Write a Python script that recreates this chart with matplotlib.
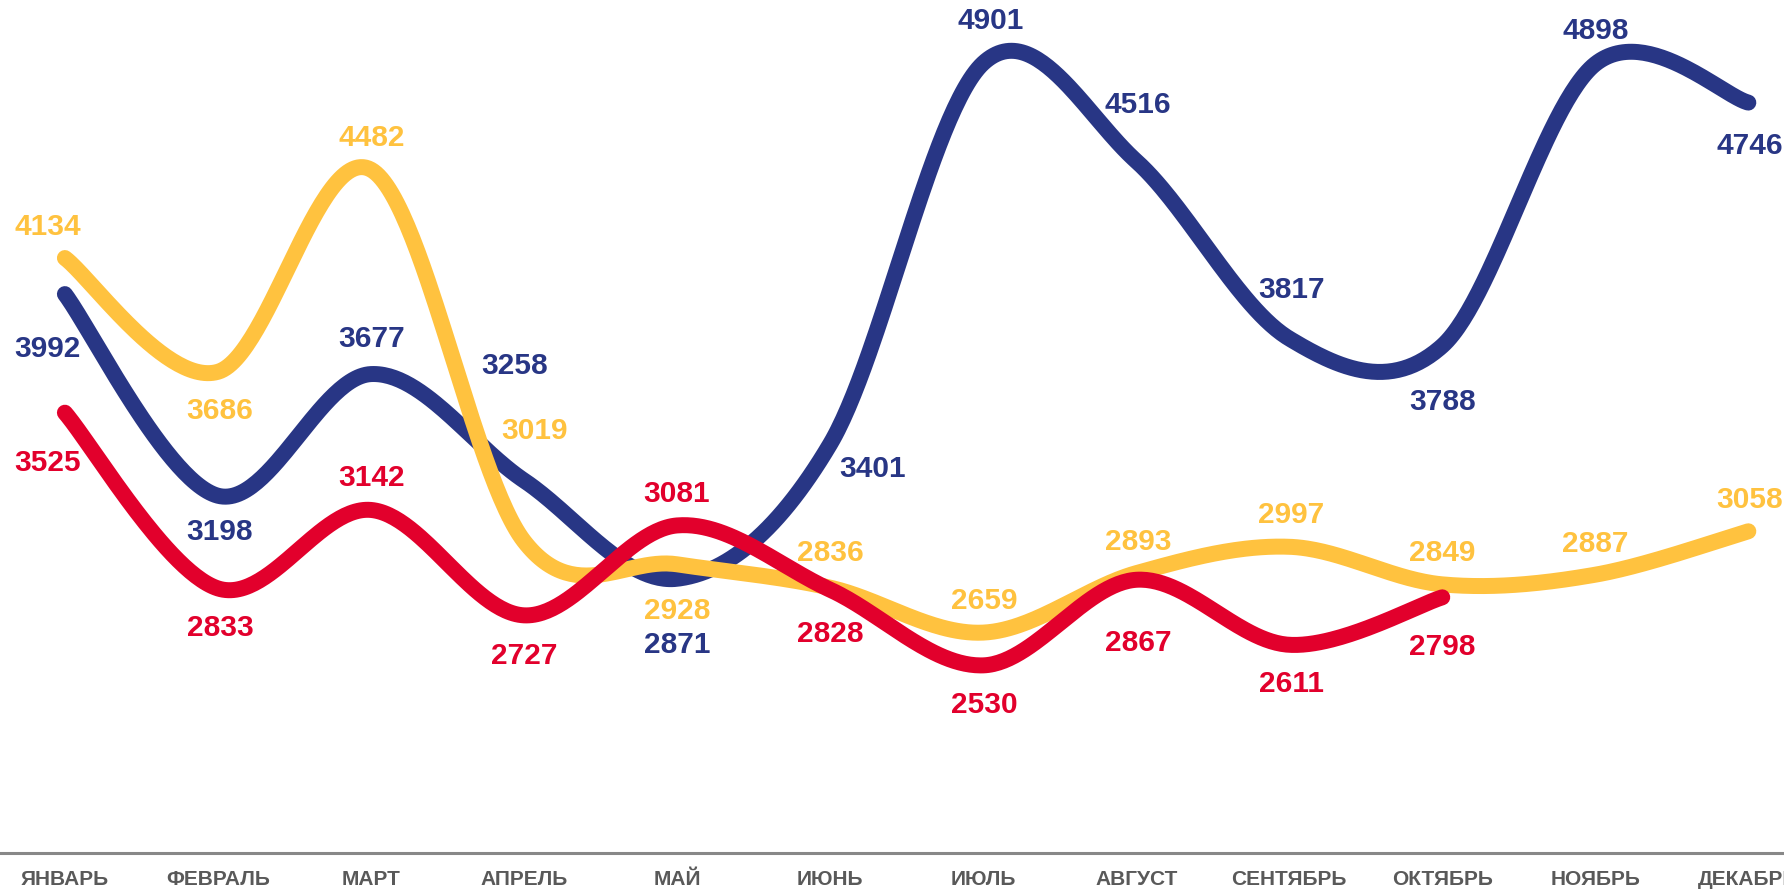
import numpy as np
import matplotlib
matplotlib.use("Agg")
import matplotlib.pyplot as plt

plt.rcParams['font.family'] = ['Liberation Sans', 'DejaVu Sans']

months = ["ЯНВАРЬ", "ФЕВРАЛЬ", "МАРТ", "АПРЕЛЬ", "МАЙ", "ИЮНЬ",
          "ИЮЛЬ", "АВГУСТ", "СЕНТЯБРЬ", "ОКТЯБРЬ", "НОЯБРЬ", "ДЕКАБРЬ"]

navy_vals = [3992, 3198, 3677, 3258, 2871, 3401, 4901, 4516, 3817, 3788, 4898, 4746]
yellow_vals = [4134, 3686, 4482, 3019, 2928, 2836, 2659, 2893, 2997, 2849, 2887, 3058]
red_vals = [3525, 2833, 3142, 2727, 3081, 2828, 2530, 2867, 2611, 2798]

# label offsets in pixels (dx, dy)
navy_off = [(-17, -55), (2, -36), (1, 35), (-9, 114), (0, -66), (42, -25),
            (8, 42), (2, 56), (2, 49), (0, -56), (0, 33), (1, -43)]
yellow_off = [(-17, 31), (2, -39), (1, 32), (11, 110), (0, -47), (0, 35),
              (1, 32), (2, 31), (2, 32), (0, 31), (0, 31), (1, 31)]
red_off = [(-17, -50), (2, -40), (1, 32), (0, -41), (0, 31), (0, -44),
           (1, -40), (2, -63), (2, -39), (0, -50)]

NAVY = "#283685"
YELLOW = "#FFC23F"
RED = "#E2002C"


def smooth(y, n=60):
    # excel-like smoothed line (bezier with catmull-rom control points)
    pts = np.column_stack([np.arange(len(y)), np.array(y, float)])
    p = np.vstack([pts[0], pts, pts[-1]])
    out = []
    for i in range(1, len(p) - 2):
        p0, p1, p2, p3 = p[i - 1], p[i], p[i + 1], p[i + 2]
        c1 = p1 + (p2 - p0) / 6
        c2 = p2 - (p3 - p1) / 6
        t = np.linspace(0, 1, n)[:, None]
        seg = ((1 - t) ** 3 * p1 + 3 * (1 - t) ** 2 * t * c1
               + 3 * (1 - t) * t ** 2 * c2 + t ** 3 * p2)
        out.append(seg if i == 1 else seg[1:])
    s = np.vstack(out)
    return s[:, 0], s[:, 1]


fig = plt.figure(figsize=(17.84, 8.91), dpi=100)
ax = fig.add_axes([0, 0.0426, 1, 0.9574])

for vals, offs, col, z in [(navy_vals, navy_off, NAVY, 2),
                           (yellow_vals, yellow_off, YELLOW, 3),
                           (red_vals, red_off, RED, 4)]:
    sx, sy = smooth(vals)
    ax.plot(sx, sy, color=col, lw=11.5, solid_capstyle='round', zorder=z)
    for i, v in enumerate(vals):
        ax.annotate(str(v), (i, v), xytext=offs[i], textcoords='offset pixels',
                    ha='center', va='center', color=col, fontsize=21.5,
                    fontweight='bold', zorder=5)

ax.set_xlim(-0.424, 11.233)
ax.set_ylim(1791, 5150)
ax.set_xticks(range(len(months)))
ax.set_xticklabels(months, fontsize=15, fontweight='bold', color="#595959")
ax.tick_params(axis='x', length=0, pad=12)
ax.set_yticks([])
for s in ['top', 'right', 'left']:
    ax.spines[s].set_visible(False)
ax.spines['bottom'].set_color("#888888")
ax.spines['bottom'].set_linewidth(2.2)

fig.savefig("out.png", dpi=100)
